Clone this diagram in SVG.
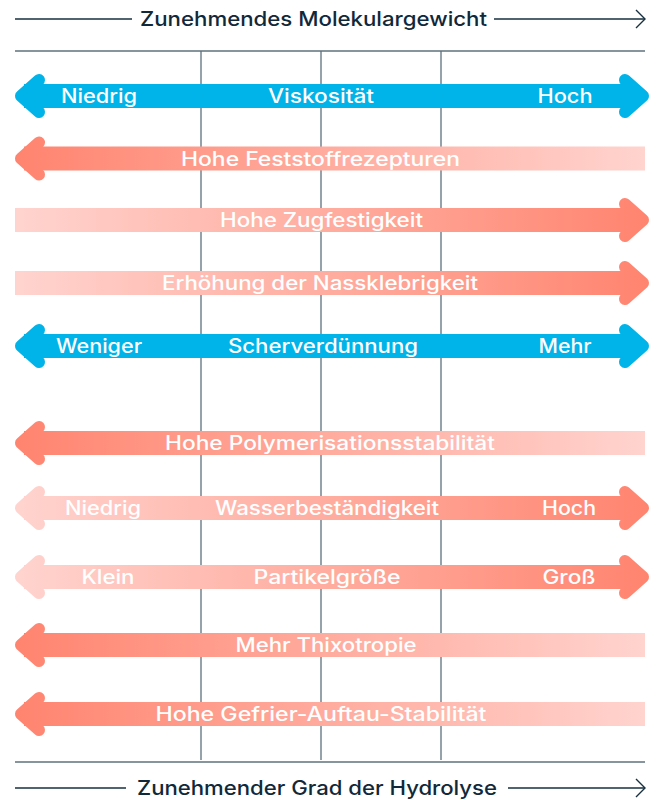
<svg xmlns="http://www.w3.org/2000/svg" width="656" height="800" viewBox="0 0 656 800">
<style>
.bg{fill:#ffffff}
.grid{stroke:#5d707c;stroke-width:1.3;fill:none}
.axis{stroke:#16303f;stroke-width:1.4;fill:none}
.title{font-family:Inter,Roboto,"Liberation Sans",sans-serif;font-weight:500;font-size:20px;fill:#10293a;text-anchor:middle}
.lbl{font-family:Inter,Roboto,"Liberation Sans",sans-serif;font-weight:500;font-size:19.5px;fill:#ffffff;text-anchor:middle}
.head{stroke-width:12;stroke-linecap:round;stroke-linejoin:round;fill:none}
.blue{fill:#00b3e8}
.blueS{stroke:#00b3e8}
.gl{fill:url(#gL)}
.glS{stroke:url(#gL)}
.gr{fill:url(#gR)}
.grS{stroke:url(#gR)}
</style>
<defs>
<linearGradient id="gL" gradientUnits="userSpaceOnUse" x1="15" y1="0" x2="649" y2="0">
<stop offset="0" stop-color="#ff846f"/>
<stop offset="1" stop-color="#ffd4cf"/>
</linearGradient>
<linearGradient id="gR" gradientUnits="userSpaceOnUse" x1="15" y1="0" x2="649" y2="0">
<stop offset="0" stop-color="#ffd4cf"/>
<stop offset="1" stop-color="#ff846f"/>
</linearGradient>
</defs>
<rect class="bg" x="0" y="0" width="656" height="800"/>

<g id="connectors">
<g id="grid">
<line class="grid" x1="15" y1="51" x2="645" y2="51"/>
<line class="grid" x1="15" y1="762" x2="645" y2="762"/>
<line class="grid" x1="201" y1="51" x2="201" y2="760"/>
<line class="grid" x1="321" y1="51" x2="321" y2="760"/>
<line class="grid" x1="441" y1="51" x2="441" y2="760"/>
</g>
<g id="axis-top">
<line class="axis" x1="15" y1="19" x2="132" y2="19"/>
<line class="axis" x1="494" y1="19" x2="645" y2="19"/>
<polyline class="axis" points="636,10 645,19 636,28"/>
</g>
<g id="axis-bottom">
<line class="axis" x1="15" y1="788" x2="126" y2="788"/>
<line class="axis" x1="508" y1="788" x2="645" y2="788"/>
<polyline class="axis" points="636,779 645,788 636,797"/>
</g>
</g>

<g id="title-top"><text class="title" x="313.5" y="26" textLength="347" lengthAdjust="spacingAndGlyphs">Zunehmendes Molekulargewicht</text></g>
<g id="title-bottom"><text class="title" x="317" y="795" textLength="360" lengthAdjust="spacingAndGlyphs">Zunehmender Grad der Hydrolyse</text></g>

<g id="viskositaet">
<rect class="blue" x="24" y="84" width="614" height="24"/>
<polyline class="head blueS" points="39,80 21,96 39,112"/>
<polyline class="head blueS" points="625,80 643,96 625,112"/>
<text class="lbl" x="99" y="103" textLength="76" lengthAdjust="spacingAndGlyphs">Niedrig</text>
<text class="lbl" x="321" y="103" textLength="106" lengthAdjust="spacingAndGlyphs">Viskosität</text>
<text class="lbl" x="565" y="103" textLength="55" lengthAdjust="spacingAndGlyphs">Hoch</text>
</g>

<g id="feststoff">
<rect class="gl" x="24" y="146.5" width="621" height="24"/>
<polyline class="head glS" points="39,142.5 21,158.5 39,174.5"/>
<text class="lbl" x="320.5" y="165.5" textLength="279" lengthAdjust="spacingAndGlyphs">Hohe Feststoffrezepturen</text>
</g>

<g id="zugfestigkeit">
<rect class="gr" x="15" y="208" width="623" height="24"/>
<polyline class="head grS" points="625,204 643,220 625,236"/>
<text class="lbl" x="321.5" y="227" textLength="203" lengthAdjust="spacingAndGlyphs">Hohe Zugfestigkeit</text>
</g>

<g id="nassklebrigkeit">
<rect class="gr" x="15" y="271" width="623" height="24"/>
<polyline class="head grS" points="625,267 643,283 625,299"/>
<text class="lbl" x="320" y="290" textLength="316" lengthAdjust="spacingAndGlyphs">Erhöhung der Nassklebrigkeit</text>
</g>

<g id="scherverduennung">
<rect class="blue" x="24" y="334" width="614" height="24"/>
<polyline class="head blueS" points="39,330 21,346 39,362"/>
<polyline class="head blueS" points="625,330 643,346 625,362"/>
<text class="lbl" x="99" y="353" textLength="86" lengthAdjust="spacingAndGlyphs">Weniger</text>
<text class="lbl" x="323" y="353" textLength="190" lengthAdjust="spacingAndGlyphs">Scherverdünnung</text>
<text class="lbl" x="565" y="353" textLength="53" lengthAdjust="spacingAndGlyphs">Mehr</text>
</g>

<g id="polymerisation">
<rect class="gl" x="24" y="431" width="621" height="24"/>
<polyline class="head glS" points="39,427 21,443 39,459"/>
<text class="lbl" x="330" y="450" textLength="330" lengthAdjust="spacingAndGlyphs">Hohe Polymerisationsstabilität</text>
</g>

<g id="wasser">
<rect class="gr" x="24" y="496" width="614" height="24"/>
<polyline class="head grS" points="39,492 21,508 39,524"/>
<polyline class="head grS" points="625,492 643,508 625,524"/>
<text class="lbl" x="103" y="515" textLength="76" lengthAdjust="spacingAndGlyphs">Niedrig</text>
<text class="lbl" x="327" y="515" textLength="224" lengthAdjust="spacingAndGlyphs">Wasserbeständigkeit</text>
<text class="lbl" x="569" y="515" textLength="54" lengthAdjust="spacingAndGlyphs">Hoch</text>
</g>

<g id="partikel">
<rect class="gr" x="24" y="565" width="614" height="24"/>
<polyline class="head grS" points="39,561 21,577 39,593"/>
<polyline class="head grS" points="625,561 643,577 625,593"/>
<text class="lbl" x="108" y="584" textLength="53" lengthAdjust="spacingAndGlyphs">Klein</text>
<text class="lbl" x="327" y="584" textLength="147" lengthAdjust="spacingAndGlyphs">Partikelgröße</text>
<text class="lbl" x="569" y="584" textLength="53" lengthAdjust="spacingAndGlyphs">Groß</text>
</g>

<g id="thixotropie">
<rect class="gl" x="24" y="633" width="621" height="24"/>
<polyline class="head glS" points="39,629 21,645 39,661"/>
<text class="lbl" x="326" y="652" textLength="181" lengthAdjust="spacingAndGlyphs">Mehr Thixotropie</text>
</g>

<g id="gefrier">
<rect class="gl" x="24" y="702" width="621" height="24"/>
<polyline class="head glS" points="39,698 21,714 39,730"/>
<text class="lbl" x="321" y="721" textLength="331" lengthAdjust="spacingAndGlyphs">Hohe Gefrier-Auftau-Stabilität</text>
</g>
</svg>
